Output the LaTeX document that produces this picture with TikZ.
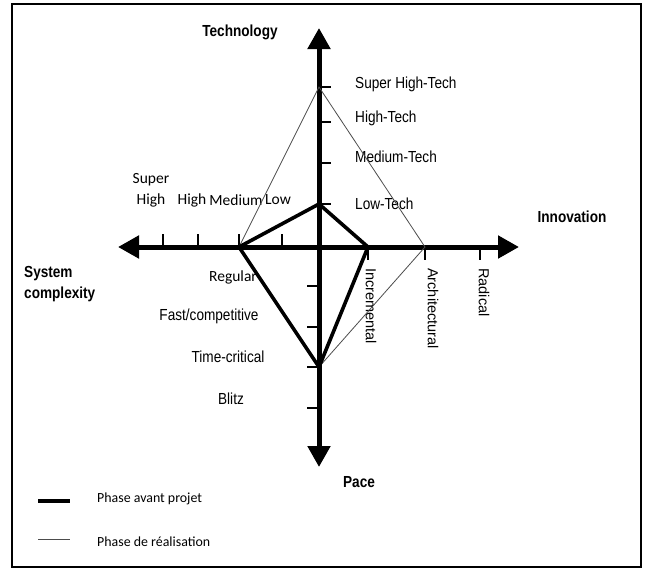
\documentclass[tikz,border=0pt]{standalone}
\usepackage{fontspec}
\usetikzlibrary{arrows.meta}
\setmainfont{Liberation Sans}
\newfontfamily\narrowfont[FakeStretch=0.85]{Liberation Sans}
\newfontfamily\carlfont{Carlito}
\begin{document}
\begin{tikzpicture}[x=1pt,y=-1pt,
  axis/.style={line width=5pt,-{Triangle[length=21pt,width=22pt]}},
  tickmark/.style={line width=1.8pt},
  avant/.style={line width=3.6pt,line join=miter},
  realis/.style={line width=0.8pt,draw=black!70},
  axlabel/.style={font=\narrowfont\bfseries\fontsize{16}{18}\selectfont,inner sep=0pt},
  lvl/.style={font=\narrowfont\fontsize{16}{18}\selectfont,inner sep=0pt},
  cplx/.style={font=\carlfont\fontsize{15.5}{17}\selectfont,inner sep=0pt},
  innov/.style={font=\fontsize{14.5}{16}\selectfont,inner sep=0pt,rotate=-90,anchor=west},
  legtext/.style={font=\carlfont\fontsize{13.9}{15}\selectfont,inner sep=0pt,anchor=west}]

% page and frame
\useasboundingbox (0,0) rectangle (648,571);
\fill[white] (0,0) rectangle (648,571);
\draw[line width=2.5pt] (12,4) rectangle (641,567);

% axis end points and profile vertices
\coordinate (o) at (319,247);
\coordinate (top) at (319,28);
\coordinate (bottom) at (319,467);
\coordinate (left) at (118,247);
\coordinate (right) at (519,247);
\coordinate (cLow) at (239,247);
\coordinate (tLow) at (319,204);
\coordinate (tSuper) at (319,87);
\coordinate (iIncr) at (368,247);
\coordinate (iArch) at (425,247);
\coordinate (pCrit) at (319,367);

% axes
\draw[axis] (o) -- (top);
\draw[axis] (o) -- (bottom);
\draw[axis] (o) -- (left);
\draw[axis] (o) -- (right);

% tick marks
\foreach \y in {87,122,163,204} \draw[tickmark] (319,\y) -- (331,\y);
\foreach \y in {286,327,367,408} \draw[tickmark] (307,\y) -- (319,\y);
\foreach \x in {163,198,239,282} \draw[tickmark] (\x,234) -- (\x,247);
\foreach \x in {368,425,480} \draw[tickmark] (\x,247) -- (\x,260);

% axis titles
\node[axlabel] (tech) at (240,32) {Technology};
\node[axlabel] (innovation) at (572,217) {Innovation};
\node[axlabel,anchor=west] (sys1) at (24,274) {System};
\node[axlabel,anchor=west] (sys2) at (24,294) {complexity};
\node[axlabel] (pace) at (359,482) {Pace};

% technology levels
\node[lvl,anchor=west] (shtech) at (355,84) {Super High-Tech};
\node[lvl,anchor=west] (htech) at (355,118) {High-Tech};
\node[lvl,anchor=west] (mtech) at (355,157) {Medium-Tech};
\node[lvl,anchor=west] (ltech) at (355,204) {Low-Tech};

% complexity levels
\node[cplx] (csuper) at (151,180) {Super};
\node[cplx] (csuperh) at (151,200) {High};
\node[cplx] (chigh) at (192,200) {High};
\node[cplx] (cmed) at (236,200) {Medium};
\node[cplx] (clow) at (278,200) {Low};

% pace levels
\node[cplx] (regular) at (233,277) {Regular};
\node[lvl] (fast) at (209,316) {Fast/competitive};
\node[lvl] (tcrit) at (228,357) {Time-critical};
\node[lvl] (blitz) at (231,399) {Blitz};

% innovation levels
\node[innov] (incr) at (371,268) {Incremental};
\node[innov] (arch) at (433,268) {Architectural};
\node[innov] (radical) at (484,268) {Radical};

% project profiles
\draw[realis] (cLow) -- (tSuper) -- (iArch) -- (pCrit) -- cycle;
\draw[avant] (cLow) -- (tLow) -- (iIncr) -- (pCrit) -- cycle;

% legend
\coordinate (la1) at (38,501);
\coordinate (la2) at (70,501);
\coordinate (lb1) at (38,539);
\coordinate (lb2) at (70,539);
\draw[avant] (la1) -- (la2);
\draw[realis] (lb1) -- (lb2);
\node[legtext] (legA) at (97,499) {Phase avant projet};
\node[legtext] (legB) at (97,542) {Phase de réalisation};
\end{tikzpicture}
\end{document}
